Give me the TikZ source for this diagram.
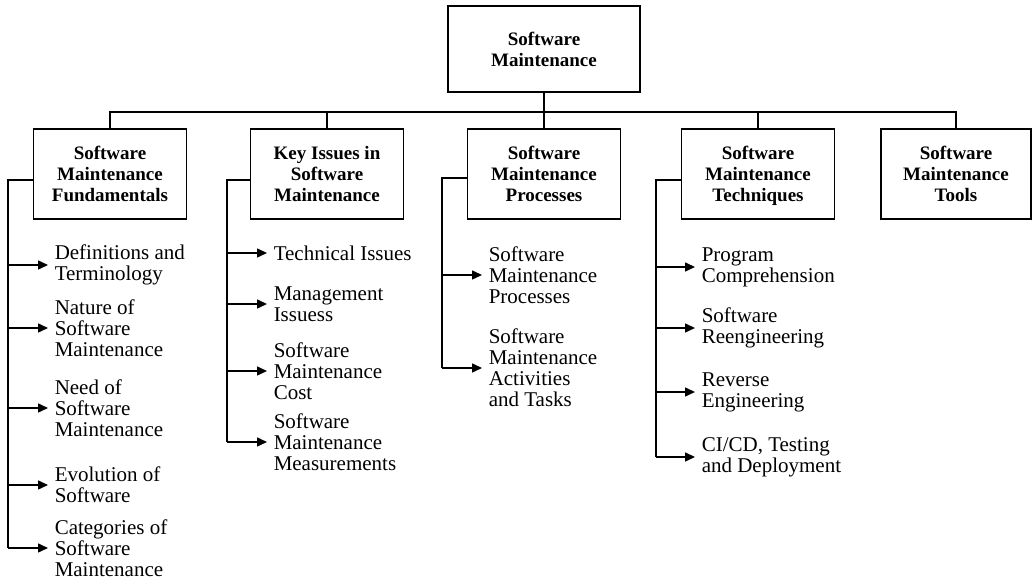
\documentclass[tikz,border=0pt]{standalone}
\usepackage{fontspec}
\setmainfont{Liberation Serif}
\usetikzlibrary{arrows.meta,positioning}
\tikzset{>/.tip={Triangle[length=5pt,width=4.5pt]}}
\tikzset{topic/.style={draw,align=center,font=\fontsize{9.5}{10.5}\selectfont\bfseries,
    minimum width=76.5pt,minimum height=45pt,inner sep=2pt,text depth=0pt}}
\tikzset{item/.style={anchor=west,align=left,font=\fontsize{10.5}{10.5}\selectfont,
    inner xsep=3pt,inner ysep=0pt}}

\begin{document}
\begin{tikzpicture}[x=0.5pt,y=-0.5pt,line width=0.75pt]
  \useasboundingbox (0,0) rectangle (1032,581);
  \node[topic,minimum width=96pt,minimum height=43pt](sm) at (544,49){Software\\Maintenance};

  \node[topic](fund) at (110,174){Software\\Maintenance\\Fundamentals};
  \node[topic](issues) at (327,174){Key Issues in\\Software\\Maintenance};
  \node[topic](proc) at (544,174){Software\\Maintenance\\Processes};
  \node[topic](tech) at (758,174){Software\\Maintenance\\Techniques};
  \node[topic,minimum width=75pt](tools) at (956,174){Software\\Maintenance\\Tools};

  % tree bus
  \coordinate (bus) at (544,112);
  \draw (sm.south) -- (bus);
  \draw (fund.north) |- (bus) -| (tools.north);
  \foreach \t in {issues,proc,tech}
    \draw (\t.north) -- (\t.north |- bus);

  % fundamentals
  \coordinate (fundbar) at (8,0);
  \node[item](fundA) at (48,265){Definitions and\\Terminology};
  \node[item](fundB) at (48,328){Nature of\\Software\\Maintenance};
  \node[item](fundC) at (48,408){Need of\\Software\\Maintenance};
  \node[item](fundD) at (48,485){Evolution of\\Software};
  \node[item](fundE) at (48,548){Categories of\\Software\\Maintenance};

  % key issues
  \coordinate (issuesbar) at (227,0);
  \node[item](issuesA) at (267,253){Technical Issues};
  \node[item](issuesB) at (267,304){Management\\Issuess};
  \node[item](issuesC) at (267,371){Software\\Maintenance\\Cost};
  \node[item](issuesD) at (267,442){Software\\Maintenance\\Measurements};

  % processes
  \coordinate (procbar) at (442,0);
  \node[item](procA) at (482,275){Software\\Maintenance\\Processes};
  \node[item](procB) at (482,368){Software\\Maintenance\\Activities\\and Tasks};

  % techniques
  \coordinate (techbar) at (656,0);
  \node[item](techA) at (695,267){Program\\Comprehension};
  \node[item](techB) at (695,328){Software\\Reengineering};
  \node[item](techC) at (695,392){Reverse\\Engineering};
  \node[item](techD) at (695,457){CI/CD, Testing\\and Deployment};

  \draw ([yshift=-3pt]fund.west) -| (fundbar |- fundE.west);
  \draw ([yshift=-3pt]issues.west) -| (issuesbar |- issuesD.west);
  \draw ([yshift=-2pt]proc.west) -| (procbar |- procB.west);
  \draw ([yshift=-3pt]tech.west) -| (techbar |- techD.west);
  \foreach \i in {fundA,fundB,fundC,fundD,fundE}
    \draw[->] (fundbar |- \i.west) -- (\i.west);
  \foreach \i in {issuesA,issuesB,issuesC,issuesD}
    \draw[->] (issuesbar |- \i.west) -- (\i.west);
  \foreach \i in {procA,procB}
    \draw[->] (procbar |- \i.west) -- (\i.west);
  \foreach \i in {techA,techB,techC,techD}
    \draw[->] (techbar |- \i.west) -- (\i.west);
\end{tikzpicture}
\end{document}
